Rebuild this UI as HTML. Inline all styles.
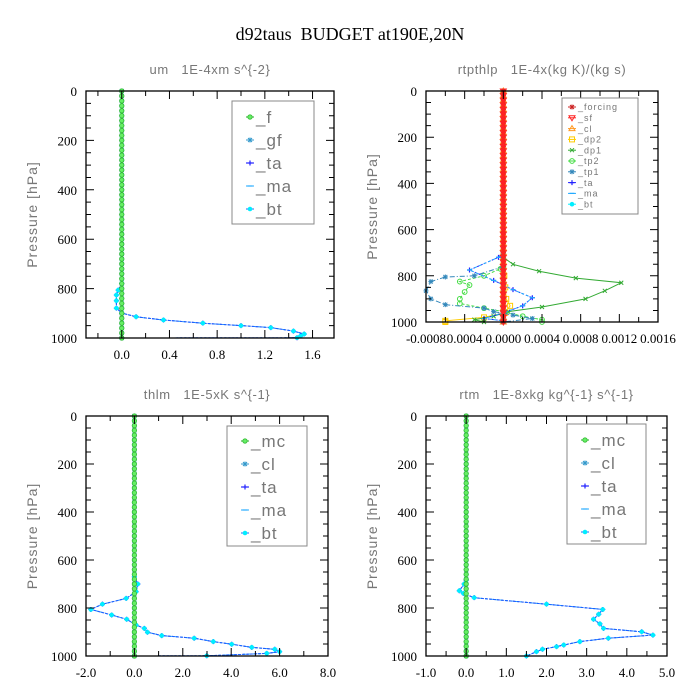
<!DOCTYPE html>
<html><head><meta charset="utf-8"><style>
html,body{margin:0;padding:0;background:#fff;}
svg{display:block;}
.tk{font-family:"Liberation Serif",serif;font-size:13px;fill:#000;}
.st{font-family:"Liberation Sans",sans-serif;font-size:13px;fill:#777;letter-spacing:0.6px;white-space:pre;}
.lg{font-family:"Liberation Sans",sans-serif;fill:#777;letter-spacing:1px;}
</style></head><body>
<svg id="chart" width="700" height="700" viewBox="0 0 700 700">
<text x="350" y="40" text-anchor="middle" style="font-family:'Liberation Serif',serif;font-size:18px;white-space:pre">d92taus  BUDGET at190E,20N</text>
</svg>
<script>
// ---- data ----
const LEV = [0,20,40,60,80,100,120,140,160,180,200,220,240,260,280,300,320,340,360,380,400,420,440,460,480,500,520,540,560,580,600,620,640,660,680,700,720,740,760,780,800,820,840,860,880,900,920,940,960,980,1000];
const ZERO = [0,0,0,0,0,0,0,0,0,0,0,0,0,0,0,0,0,0,0,0,0,0,0,0,0,0,0,0,0,0,0,0,0,0,0,0,0,0,0,0,0,0,0,0,0,0,0,0,0,0,0];

// um panel
const umP = [779,806,826,849,879,899,914,927,940,950,958,972,984,992,999,1000];
const umV = [0,-0.03,-0.045,-0.045,-0.045,0,0.12,0.35,0.68,1.0,1.25,1.44,1.53,1.5,1.47,0];

// rtpthlp panel
const dp1P = [720,750,780,810,830,865,900,935,955,975,990,1000];
const dp1V = [0,0.0001,0.00037,0.00075,0.00122,0.00105,0.00085,0.0004,0.00005,-0.0001,-0.0003,-0.0002];
const tp2P = [760,770,800,825,840,870,900,920,940,955,975,990,1000];
const tp2V = [0,-0.00003,-0.0002,-0.00045,-0.00035,-0.0004,-0.00045,-0.00045,-0.0002,0,0.0002,0.0004,0.0004];
const tp1P = [760,800,805,825,865,900,925,940,955,970,985,1000];
const tp1V = [0,-0.0003,-0.0006,-0.00075,-0.0008,-0.00075,-0.0006,-0.0002,-0.0001,0.0001,0.0003,0];
const taP = [700,720,775,820,860,895,930,960,985,995,1000];
const taV = [0,-0.00005,-0.00035,-0.0001,0.0001,0.0003,0.0002,0,-0.0002,0,0];
const dp2P = [800,850,900,930,960,980,995,1000];
const dp2V = [0.00001,0.00002,0.00003,0.00007,0.00002,-0.0002,-0.0006,-0.0006];

// thlm panel
const thP = [670,700,732,760,784,806,829,847,871,885,901,915,926,940,951,964,972,982,989,999,1000];
const thV = [0,0.14,0.07,-0.34,-1.32,-1.8,-0.94,-0.32,0.07,0.41,0.54,1.13,2.47,3.26,4.02,4.85,5.8,6.0,5.47,2.99,0];

// rtm panel
const rtP = [684,700,728,739,757,784,806,826,847,866,885,899,913,926,940,954,961,972,982,1000,1000];
const rtV = [0,-0.05,-0.17,-0.07,0.2,2.0,3.4,3.3,3.17,3.33,3.42,4.37,4.65,3.54,2.83,2.43,2.25,1.9,1.75,1.5,0];

const YTICKS = [0,200,400,600,800,1000];
const umXT = [0,0.4,0.8,1.2,1.6], umXL = ["0.0","0.4","0.8","1.2","1.6"];
const rtpXT = [-0.0008,-0.0004,0,0.0004,0.0008,0.0012,0.0016];
const rtpXL = ["-0.0008","0.0004","0.0000","0.0004","0.0008","0.0012","0.0016"];
const thXT = [-2,0,2,4,6,8], thXL = ["-2.0","0.0","2.0","4.0","6.0","8.0"];
const rtXT = [-1,0,1,2,3,4,5], rtXL = ["-1.0","0.0","1.0","2.0","3.0","4.0","5.0"];

// ---- drawing ----
const svg = document.getElementById('chart');
const NS = 'http://www.w3.org/2000/svg';
function mk(tag, attrs, parent){
  const e = document.createElementNS(NS, tag);
  for (const k in attrs) e.setAttribute(k, attrs[k]);
  (parent||svg).appendChild(e);
  return e;
}
function marker(g, type, x, y, col){
  let e;
  if (type==='circle'){ e = mk('circle',{cx:x,cy:y,r:2.2,fill:col,stroke:'#33bb33','stroke-width':0.8},g); }
  else if (type==='ocircle'){ e = mk('circle',{cx:x,cy:y,r:2.4,fill:'none',stroke:col,'stroke-width':1},g); }
  else if (type==='plus'){ e = mk('path',{d:`M${x-2.5},${y}h5M${x},${y-2.5}v5`,stroke:col,'stroke-width':1.2},g); }
  else if (type==='x'){ e = mk('path',{d:`M${x-2},${y-2}l4,4M${x-2},${y+2}l4,-4`,stroke:col,'stroke-width':1},g); }
  else if (type==='star'){ e = mk('path',{d:`M${x-2.5},${y}h5M${x},${y-2.5}v5M${x-2},${y-2}l4,4M${x-2},${y+2}l4,-4`,stroke:col,'stroke-width':1},g); }
  else if (type==='square'){ e = mk('rect',{x:x-2.5,y:y-2.5,width:5,height:5,fill:'none',stroke:col,'stroke-width':1},g); }
  else if (type==='dot'){ e = mk('circle',{cx:x,cy:y,r:2.3,fill:col},g); }
  else if (type==='dash'){ e = mk('path',{d:`M${x-2.5},${y}h5`,stroke:col,'stroke-width':1.2},g); }
  else if (type==='tri'){ e = mk('path',{d:`M${x},${y-3}L${x+3},${y+2}L${x-3},${y+2}Z`,fill:'none',stroke:col,'stroke-width':1},g); }
  else if (type==='tridown'){ e = mk('path',{d:`M${x},${y+3}L${x+3},${y-2}L${x-3},${y-2}Z`,fill:'none',stroke:col,'stroke-width':1},g); }
  
  
}

function panel(cfg){
  const g = mk('g',{});
  
  
  const X = v => cfg.x0 + (v-cfg.xmin)/(cfg.xmax-cfg.xmin)*(cfg.x1-cfg.x0);
  const Y = p => cfg.y0 + p/1000*(cfg.y1-cfg.y0);
  const t = mk('text',{x:(cfg.x0+cfg.x1)/2, y:cfg.y0-17,'text-anchor':'middle',class:'st'},g);
  t.textContent = cfg.title;
  
  
  const yt = mk('text',{x:0,y:0,class:'st','text-anchor':'middle',transform:`translate(${cfg.x0-49},${(cfg.y0+cfg.y1)/2}) rotate(-90)`,style:'font-size:14px;letter-spacing:1px'},g);
  yt.textContent = 'Pressure [hPa]';
  
  
  const order = cfg.series.filter(s=>!s.top).concat(cfg.series.filter(s=>s.top));
  order.forEach(s=>{
    const sg = mk('g',{},g);
    
    
    const pts = s.p.map((p,i)=>X(s.v[i]).toFixed(1)+','+Y(p).toFixed(1)).join(' ');
    const pl = mk('polyline',{points:pts,fill:'none',stroke:s.line,'stroke-width':s.w||1,'stroke-dasharray':s.dash||'none'},sg);
    
    
    s.p.forEach((p,i)=>{ if (s.nomark && i===s.p.length-1) return; marker(sg, s.m, X(s.v[i]), Y(p), s.mc); });
  });
  const fr = mk('rect',{x:cfg.x0,y:cfg.y0,width:cfg.x1-cfg.x0,height:cfg.y1-cfg.y0,fill:'none',stroke:'#000','stroke-width':1.3},g);
  
  
  let d='';
  for (let p=0;p<=1000;p+=50){
    const y=Y(p), L = (p%200===0)?8:5;
    d += `M${cfg.x0},${y}h${L}M${cfg.x1},${y}h${-L}`;
  }
  const xs = cfg.xt;
  const step = xs[1]-xs[0];
  for (let k=-4;k<=2*xs.length+4;k++){
    const vv = xs[0]+k*step/2;
    if (vv<cfg.xmin-1e-12||vv>cfg.xmax+1e-12) continue;
    const x=X(vv), L=(k%2===0)?8:5;
    d += `M${x},${cfg.y0}v${L}M${x},${cfg.y1}v${-L}`;
  }
  const tk = mk('path',{d:d,stroke:'#000','stroke-width':1},g);
  
  
  YTICKS.forEach(p=>{
    const e = mk('text',{x:cfg.x0-9,y:Y(p)+5,'text-anchor':'end',class:'tk'},g);
    e.textContent = String(p);
    
    
  });
  xs.forEach((v,i)=>{
    const e = mk('text',{x:X(v),y:cfg.y1+21,'text-anchor':'middle',class:'tk'},g);
    e.textContent = cfg.xl[i];
    
    
  });
  const lb = cfg.leg;
  const lg = mk('g',{},g);
  
  
  const lr = mk('rect',{x:lb.x,y:lb.y,width:lb.w,height:lb.h,fill:'#fff',stroke:'#888','stroke-width':1},lg);
  
  
  cfg.series.forEach((s,i)=>{
    const y = lb.y + lb.top + i*lb.dy;
    const eg = mk('g',{},lg);
    
    
    mk('path',{d:`M${lb.x+lb.mx-4},${y}h8`,stroke:s.line,'stroke-width':1},eg);
    marker(eg, s.m, lb.x+lb.mx, y, s.mc);
    const tx = mk('text',{x:lb.x+lb.mx+6,y:y+lb.fs*0.35,class:'lg',style:`font-size:${lb.fs}px`},eg);
    tx.textContent = s.label;
    
    
  });
}

const GL='#22aa22', GM='#66ee66';
panel({name:'panel-um',title:'um   1E-4xm s^{-2}',x0:86,x1:334,y0:91,y1:338,xmin:-0.3,xmax:1.78,xt:umXT,xl:umXL,
  leg:{x:232,y:101,w:82,h:123,top:16,dy:23,mx:18,fs:17},
  series:[
    {label:'_f',p:LEV,v:ZERO,line:GL,w:2,m:'circle',mc:GM,top:true},
    {label:'_gf',p:LEV,v:ZERO,line:'#3399cc',m:'star',mc:'#3399cc'},
    {label:'_ta',p:umP,v:umV,line:'#0000ff',dash:'2,2',m:'plus',mc:'#2222ff'},
    {label:'_ma',p:umP,v:umV,line:'#22aaff',dash:'3,2',m:'dash',mc:'#22aaff'},
    {label:'_bt',p:umP,v:umV,line:'#1e60ff',dash:'3,1',m:'dot',mc:'#00eeff',nomark:true}
  ]});
panel({name:'panel-rtpthlp',title:'rtpthlp   1E-4x(kg K)/(kg s)',x0:426,x1:658,y0:91,y1:322,xmin:-0.0008,xmax:0.0016,xt:rtpXT,xl:rtpXL,
  leg:{x:562,y:98,w:76,h:116,top:9,dy:10.8,mx:10,fs:9},
  series:[
    {label:'_forcing',p:LEV,v:ZERO,line:'#cc2222',w:3,m:'star',mc:'#cc2222',top:true},
    {label:'_sf',p:LEV,v:ZERO,line:'#ff2222',w:3,m:'tridown',mc:'#ff2222',top:true},
    {label:'_cl',p:LEV,v:ZERO,line:'#ff9922',w:2,m:'tri',mc:'#ff9922'},
    {label:'_dp2',p:dp2P,v:dp2V,line:'#ffcc00',m:'square',mc:'#ffcc00'},
    {label:'_dp1',p:dp1P,v:dp1V,line:'#33aa33',m:'x',mc:'#33aa33'},
    {label:'_tp2',p:tp2P,v:tp2V,line:'#44dd44',dash:'3,2',m:'ocircle',mc:'#44dd44'},
    {label:'_tp1',p:tp1P,v:tp1V,line:'#3388bb',dash:'5,2,1,2',m:'star',mc:'#3388bb'},
    {label:'_ta',p:taP,v:taV,line:'#2222ff',dash:'2,2',m:'plus',mc:'#2222ff'},
    {label:'_ma',p:taP,v:taV,line:'#22aaff',dash:'3,2',m:'dash',mc:'#22aaff'},
    {label:'_bt',p:taP,v:ZERO.slice(0,11),line:'#00eeff',m:'dot',mc:'#00eeff'}
  ]});
panel({name:'panel-thlm',title:'thlm   1E-5xK s^{-1}',x0:86,x1:328,y0:416,y1:656,xmin:-2,xmax:8,xt:thXT,xl:thXL,
  leg:{x:227,y:426,w:80,h:120,top:15,dy:23,mx:18,fs:17},
  series:[
    {label:'_mc',p:LEV,v:ZERO,line:GL,w:2,m:'circle',mc:GM,top:true},
    {label:'_cl',p:LEV,v:ZERO,line:'#3399cc',m:'star',mc:'#3399cc'},
    {label:'_ta',p:thP,v:thV,line:'#0000ff',dash:'2,2',m:'plus',mc:'#2222ff'},
    {label:'_ma',p:thP,v:thV,line:'#22aaff',dash:'3,2',m:'dash',mc:'#22aaff'},
    {label:'_bt',p:thP,v:thV,line:'#1e60ff',dash:'3,1',m:'dot',mc:'#00eeff',nomark:true}
  ]});
panel({name:'panel-rtm',title:'rtm   1E-8xkg kg^{-1} s^{-1}',x0:426,x1:667,y0:416,y1:656,xmin:-1,xmax:5,xt:rtXT,xl:rtXL,
  leg:{x:567,y:424,w:79,h:120,top:16,dy:23,mx:18,fs:17},
  series:[
    {label:'_mc',p:LEV,v:ZERO,line:GL,w:2,m:'circle',mc:GM,top:true},
    {label:'_cl',p:LEV,v:ZERO,line:'#3399cc',m:'star',mc:'#3399cc'},
    {label:'_ta',p:rtP,v:rtV,line:'#0000ff',dash:'2,2',m:'plus',mc:'#2222ff'},
    {label:'_ma',p:rtP,v:rtV,line:'#22aaff',dash:'3,2',m:'dash',mc:'#22aaff'},
    {label:'_bt',p:rtP,v:rtV,line:'#1e60ff',dash:'3,1',m:'dot',mc:'#00eeff',nomark:true}
  ]});
</script>
</body></html>
